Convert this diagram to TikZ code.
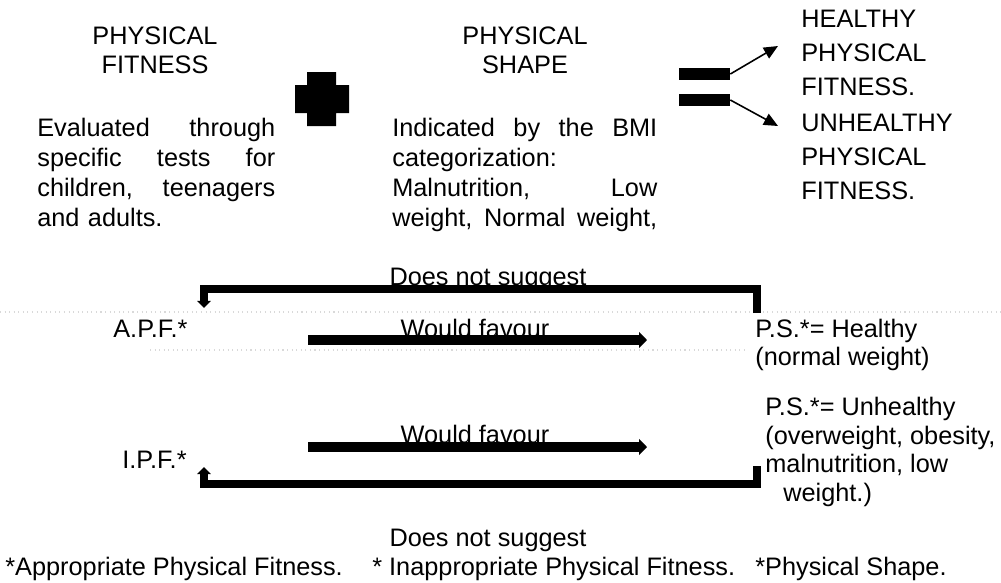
\documentclass[tikz,border=0pt]{standalone}
\usepackage{fontspec}
\setmainfont{Liberation Sans}
\usetikzlibrary{arrows.meta}

\tikzset{
    txt/.style={inner sep=0pt, font=\fontsize{14.4pt}{17pt}\selectfont},
    bar/.style={fill=black, inner sep=0pt, minimum width=1.02cm, minimum height=0.25cm},
    thinarrow/.style={line width=0.9pt, -{Triangle[length=8pt,width=7pt]}},
    favour/.style={line width=5.7pt, -{Triangle[length=4.5pt,width=9pt]}},
    backarrow/.style={line width=4.5pt, line join=miter, -{Triangle[length=4pt,width=7.5pt]}}
}

\begin{document}
\begin{tikzpicture}[x=0.02cm, y=-0.02cm]
    \useasboundingbox (0,0) rectangle (1001,582);

    % Faint scan lines
    \draw[gray!30, dotted, line width=0.6pt] (0,312) -- (1001,312);
    \draw[gray!30, dotted, line width=0.6pt] (150,350) -- (745,350);

    % Upper row: fitness + shape
    \node[txt, anchor=north, align=center, font=\fontsize{14.4pt}{16.5pt}\selectfont] (pftitle) at (155,26) {PHYSICAL\\FITNESS};
    \node[txt, anchor=north west, text width=4.76cm, align=left, font=\fontsize{14.4pt}{17pt}\selectfont] (pfdesc) at (37,118)
        {Evaluated\hfill through\\ specific\hfill tests\hfill for\\ children,\hfill teenagers\\ and adults.};

    \fill (307,72) -- (336,72) -- (336,85) -- (349,85) -- (349,113) -- (336,113) -- (336,126)
        -- (307,126) -- (307,113) -- (295,113) -- (295,85) -- (307,85) -- cycle; % Plus sign

    \node[txt, anchor=north, align=center, font=\fontsize{14.4pt}{16.5pt}\selectfont] (pstitle) at (525,26) {PHYSICAL\\SHAPE};
    \node[txt, anchor=north west, text width=5.3cm, align=left, font=\fontsize{14.4pt}{17pt}\selectfont] (psdesc) at (392,118)
        {Indicated\hfill by\hfill the\hfill BMI\\ categorization:\\ Malnutrition,\hfill Low\\ weight,\hfill Normal\hfill weight,};

    % Equals sign and results
    \node[bar] (eqtop) at (704.5,74) {};
    \node[bar] (eqbot) at (704.5,100) {};

    \node[txt, anchor=north west, align=left, font=\fontsize{14.4pt}{19.3pt}\selectfont] (healthy) at (801,10) {HEALTHY\\PHYSICAL\\FITNESS.};
    \node[txt, anchor=north west, align=left, font=\fontsize{14.4pt}{19.3pt}\selectfont] (unhealthy) at (801,114) {UNHEALTHY\\PHYSICAL\\FITNESS.};

    \coordinate (toh) at (778,46);
    \coordinate (tou) at (778,126);
    \draw[thinarrow] (eqtop.east) -- (toh);
    \draw[thinarrow] (eqbot.east) -- (tou);

    % Lower part: relations
    \node[txt, anchor=base west] (apf) at (113,337) {A.P.F.*};
    \node[txt, anchor=base west] (ipf) at (122,468) {I.P.F.*};

    \node[txt, anchor=north west, align=left, font=\fontsize{14.4pt}{16pt}\selectfont] (psh) at (755,319) {P.S.*= Healthy\\(normal weight)};
    \node[txt, anchor=north west, align=left, font=\fontsize{14.4pt}{16.2pt}\selectfont] (psu) at (765,397)
        {P.S.*= Unhealthy\\(overweight, obesity,\\malnutrition, low\\\hspace*{0.36cm}weight.)};

    \coordinate (f1s) at (308,340);
    \coordinate (f1e) at (647,340);
    \coordinate (f2s) at (308,447);
    \coordinate (f2e) at (647,447);
    \draw[favour] (f1s) -- (f1e);
    \draw[favour] (f2s) -- (f2e);
    \node[txt, anchor=base] (fav1) at (475,337) {Would favour};
    \node[txt, anchor=base] (fav2) at (475,443) {Would favour};

    \coordinate (hstop) at (757,313);
    \coordinate (apftip) at (204,308);
    \coordinate (ustop) at (757,466);
    \coordinate (ipftip) at (204,467);
    \draw[backarrow] (hstop) -- ++(0,-24) -| (apftip);
    \draw[backarrow] (ustop) -- ++(0,18) -| (ipftip);
    \node[txt, anchor=base] (dns1) at (488,285) {Does not suggest};
    \node[txt, anchor=base] (dns2) at (488,546) {Does not suggest};

    % Footnotes
    \node[txt, anchor=base west] (fn1) at (5,575) {*Appropriate Physical Fitness.};
    \node[txt, anchor=base west] (fn2) at (372,575) {* Inappropriate Physical Fitness.};
    \node[txt, anchor=base west] (fn3) at (755,575) {*Physical Shape.};
\end{tikzpicture}
\end{document}
